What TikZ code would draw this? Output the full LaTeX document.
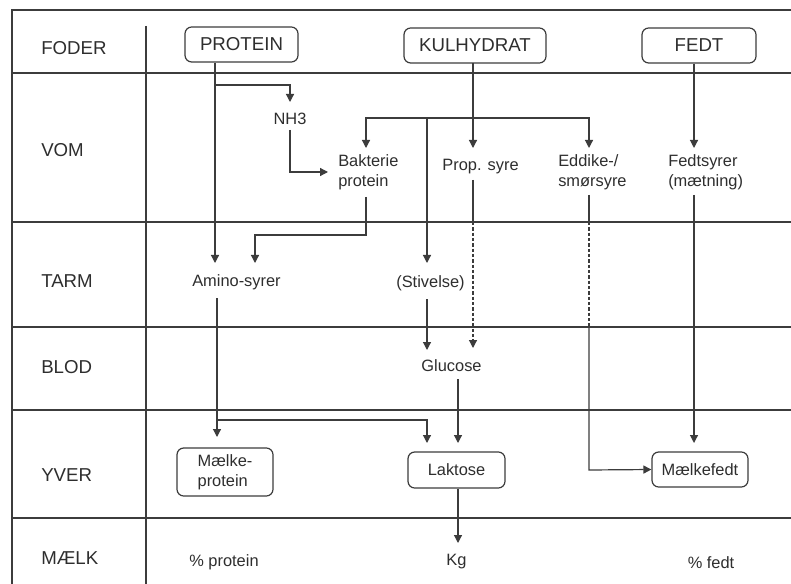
\documentclass[tikz,border=0pt]{standalone}
\usepackage{fontspec}
\setmainfont{Liberation Sans}
\usetikzlibrary{arrows.meta}
\definecolor{ink}{HTML}{2E2E2E}
\definecolor{lin}{HTML}{3C3C3C}
\begin{document}
\begin{tikzpicture}[x=0.75pt,y=-0.75pt,
  lbl/.style={font=\fontsize{14}{16}\selectfont,text=ink,anchor=west,inner sep=0pt},
  big/.style={font=\fontsize{14}{16}\selectfont,text=ink},
  txt/.style={font=\fontsize{12.3}{15}\selectfont,text=ink,inner sep=0pt},
  box/.style={draw=lin,line width=0.9pt,rounded corners=5pt,inner sep=0pt},
  gridline/.style={draw=lin,line width=1pt},
  frameline/.style={draw=lin,line width=2pt},
  conn/.style={draw=lin,line width=0.9pt},
  arr/.style={conn,-{Triangle[length=6pt,width=6pt]}},
  dashline/.style={dash pattern=on 2.5pt off 1.5pt}
]
\useasboundingbox (0,0) rectangle (791,584);
\fill[white] (0,0) rectangle (791,584);

% frame and grid
\draw[frameline] (12,584) -- (12,10) -- (791,10);
\foreach \yy in {73,222,327,410,518} \draw[gridline] (12,\yy) -- (791,\yy);
\draw[gridline] (146,26) -- (146,584);

% row labels
\node[lbl] (foder) at (41,48) {FODER};
\node[lbl] (vom)   at (41,150) {VOM};
\node[lbl] (tarm)  at (41,281) {TARM};
\node[lbl] (blod)  at (41,367) {BLOD};
\node[lbl] (yver)  at (41,475) {YVER};
\node[lbl] (maelk) at (41,558) {MÆLK};

% top boxes
\node[big,box,minimum width=84.75pt,minimum height=26.25pt] (protein) at (241.5,44.5) {PROTEIN};
\node[big,box,minimum width=106.5pt,minimum height=26.25pt] (kul) at (475,45.5) {KULHYDRAT};
\node[big,box,minimum width=85.5pt,minimum height=26.25pt] (fedt) at (699,45.5) {FEDT};

% inner texts
\node[txt] (nh3) at (290,119) {NH3};
\node[txt,anchor=west,align=left] (bakt) at (338,172) {Bakterie\\protein};
\node[txt] (prop) at (480.5,167) {Prop. syre};
\node[txt,anchor=west,align=left] (edd) at (558,172) {Eddike-/\\smørsyre};
\node[txt,anchor=west,align=left] (fsy) at (668,172) {Fedtsyrer\\(mætning)};
\node[txt] (amino) at (236.5,282) {Amino-syrer};
\node[txt] (stiv) at (430.5,283) {(Stivelse)};
\node[txt] (gluc) at (451.5,366) {Glucose};

% bottom boxes
\node[txt,box,align=left,minimum width=72pt,minimum height=36pt] (mprot) at (225,472) {Mælke-\\protein};
\node[txt,box,minimum width=72.75pt,minimum height=27pt] (lakt) at (456.5,470) {Laktose};
\node[txt,box,minimum width=72pt,minimum height=26.25pt] (mfedt) at (700,469.5) {Mælkefedt};

% milk row
\node[txt] (kg) at (456.5,562) {Kg};
\node[txt] (pprot) at (224,562) {\% protein};
\node[txt] (pfedt) at (711,563) {\% fedt};

% connectors
\coordinate (jp) at (215,85);
\coordinate (jk) at (427,118);
\coordinate (ja) at (217,420);
\draw[arr] (protein.south -| jp) -- (215,263);
\draw[arr] (jp) -- (290,85) -- (290,102);
\draw[arr] (290,130) -- (290,172) -- (328,172);
\draw[arr] (473,63) -- (473,148);
\draw[arr] (jk) -- (366,118) -- (366,148);
\draw[arr] (jk) -- (589,118) -- (589,148);
\draw[arr] (jk) -- (427,263);
\draw[arr] (366,197) -- (366,235) -- (255,235) -- (255,263);
\draw[conn] (473,180) -- (473,222);
\draw[arr,dashline] (473,222) -- (473,348);
\draw[conn] (589,195) -- (589,222);
\draw[conn,dashline] (589,222) -- (589,327);
\draw[arr] (589,327) -- (589,470) -- (mfedt.west);
\draw[arr] (fedt.south -| 694,0) -- (694,148);
\draw[arr] (694,195) -- (694,443);
\draw[arr] (427,299) -- (427,350);
\draw[arr] (458,379) -- (458,443);
\draw[arr] (217,298) -- (217,437);
\draw[arr] (ja) -- (427,420) -- (427,443);
\draw[arr] (lakt.south -| 458,0) -- (458,543);
\end{tikzpicture}
\end{document}
